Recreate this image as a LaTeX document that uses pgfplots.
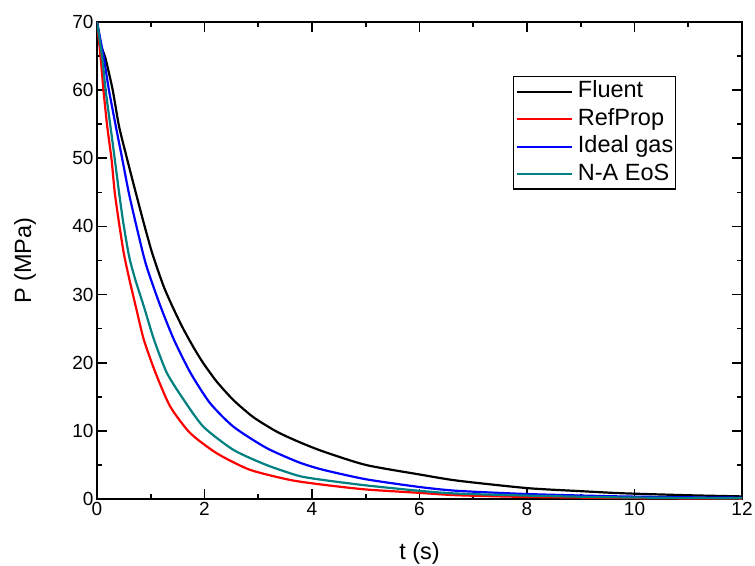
\documentclass[border=0pt]{standalone}
\usepackage{fontspec}
\setmainfont{Liberation Sans}
\usepackage{pgfplots}
\pgfplotsset{compat=1.18}
\definecolor{tealc}{RGB}{0,128,128}
\begin{document}
\begin{tikzpicture}
\useasboundingbox (-97pt,-66pt) rectangle (658pt,499pt);
\begin{axis}[
  at={(0pt,0pt)}, anchor=south west,
  scale only axis, width=645pt, height=477pt,
  xmin=0, xmax=12, ymin=0, ymax=70,
  xtick={0,2,...,12}, ytick={0,10,...,70},
  minor x tick num=1, minor y tick num=1,
  tick align=inside,
  major tick length=10pt, minor tick length=5pt,
  every tick/.style={black, line width=1.6pt},
  axis line style={line width=2pt},
  tick label style={font=\fontsize{19}{21}\selectfont},
  /pgf/number format/assume math mode=true,
  label style={font=\fontsize{23.5}{26}\selectfont},
  xlabel={t (s)}, ylabel={P (MPa)},
  xlabel style={at={(axis description cs:0.5,-0.1132)}, anchor=center},
  ylabel style={at={(axis description cs:-0.1116,0.5)}, anchor=center},
  no markers,
  legend style={at={(0.645,0.887)}, anchor=north west, draw=black, line width=1.4pt,
    font=\fontsize{23.5}{26}\selectfont, inner xsep=2pt, inner ysep=4pt,
    row sep=5.5pt, column sep=5pt,
    nodes={inner ysep=0pt, inner xsep=0pt, text height=17pt, text depth=5pt},
    cells={anchor=west}},
  legend image code/.code={\draw[#1, line width=2.2pt] (0pt,0pt) -- (55pt,0pt);},
]
\addplot[black, line width=2.2pt, smooth, tension=0.4] coordinates {
(0,70) (0.08,66.5) (0.16,64.6) (0.29,60.1) (0.41,54.7) (0.56,49.9) (0.72,45)
(0.87,40.5) (1.03,36.0) (1.24,31.2) (1.43,27.8) (1.61,24.9) (1.80,22.2)
(1.98,19.9) (2.23,17.2) (2.54,14.5) (2.91,12.0) (3.34,9.9) (3.75,8.4)
(4.2,7.0) (5,5.0) (6,3.6) (6.7,2.7) (8,1.6) (9,1.15) (9.6,0.9) (10,0.78)
(11,0.55) (12,0.38)};
\addlegendentry{Fluent}
\addplot[red, line width=2.2pt, smooth, tension=0.4] coordinates {
(0,70) (0.07,64.6) (0.12,60) (0.19,54.7) (0.27,49.9) (0.33,45) (0.41,40.5)
(0.5,36) (0.6,32.3) (0.72,28.3) (0.87,23.4) (1.09,18.5) (1.36,13.6)
(1.73,9.7) (2.23,6.7) (2.84,4.3) (3.59,2.8) (4.2,2.1) (5,1.4) (6,0.9)
(6.7,0.55) (8,0.3) (9.6,0.15) (11,0.08) (12,0.05)};
\addlegendentry{RefProp}
\addplot[blue, line width=2.2pt, smooth, tension=0.4] coordinates {
(0,70) (0.13,64.6) (0.22,60.1) (0.35,54.7) (0.47,49.9) (0.59,45) (0.72,40.5)
(0.87,35.6) (0.96,33.2) (1.18,28.3) (1.43,23.4) (1.74,18.5) (2.1,14.1)
(2.54,10.6) (3.15,7.5) (3.75,5.4) (4.2,4.3) (5,2.9) (6,1.76) (6.7,1.2)
(8,0.73) (9.6,0.4) (11,0.25) (12,0.2)};
\addlegendentry{Ideal gas}
\addplot[tealc, line width=2.2pt, smooth, tension=0.4] coordinates {
(0,70) (0.1,64.6) (0.16,60) (0.25,54.7) (0.33,49.9) (0.41,45) (0.49,40.5)
(0.6,35.5) (0.72,32) (0.87,28.3) (1.06,23.4) (1.30,18.5) (1.61,14.6)
(1.98,10.6) (2.54,7.2) (3.15,5.0) (3.75,3.4) (4.2,2.8) (5,2.0) (6,1.2)
(6.7,0.8) (8,0.5) (9.6,0.25) (11,0.15) (12,0.1)};
\addlegendentry{N-A EoS}
\end{axis}
\end{tikzpicture}
\end{document}
